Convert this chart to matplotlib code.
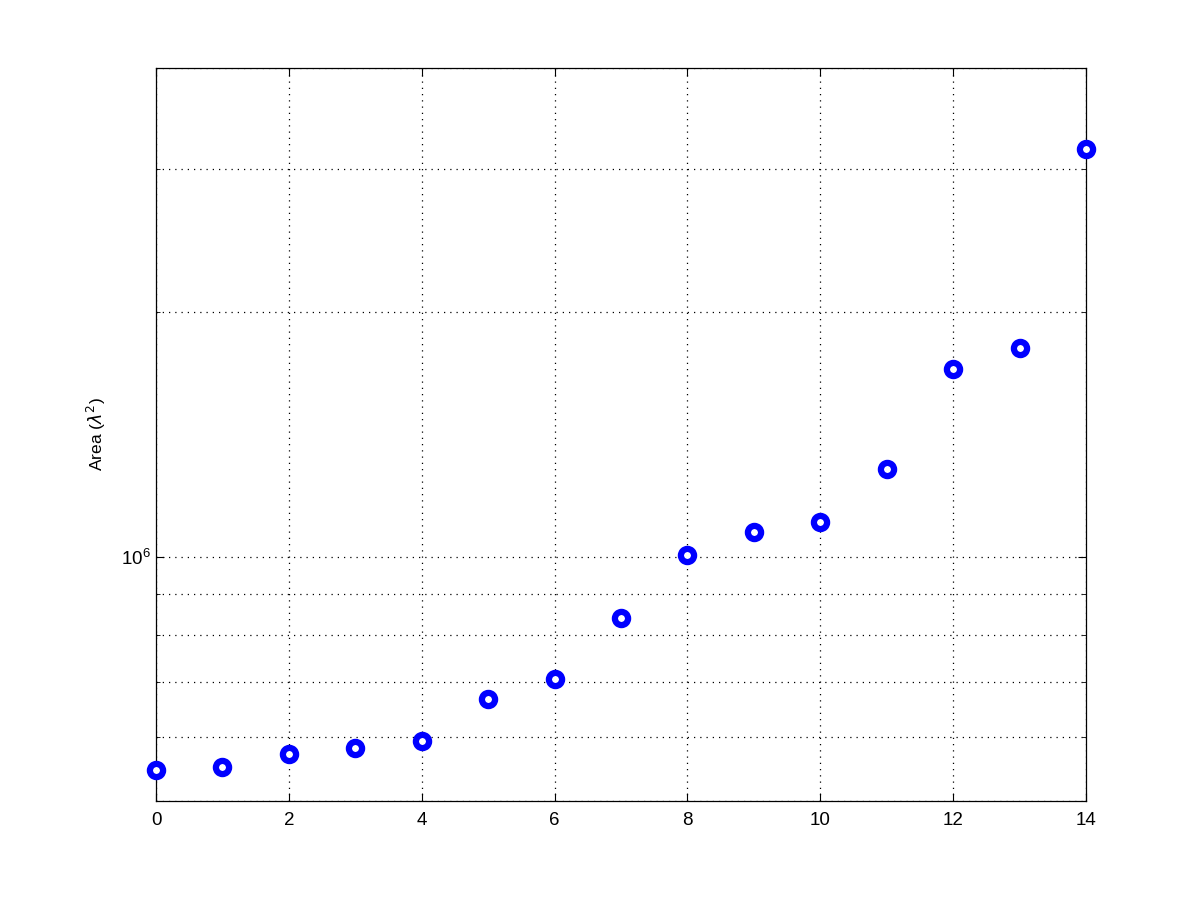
import matplotlib
matplotlib.use("Agg")
import matplotlib.pyplot as plt
from matplotlib.ticker import LogLocator, NullFormatter, LogFormatterSciNotation, MultipleLocator

plt.rcParams['font.family'] = ['Liberation Sans', 'DejaVu Sans']

# data
index = [0, 1, 2, 3, 4, 5, 6, 7, 8, 9, 10, 11, 12, 13, 14]
area = [5.46e5, 5.51e5, 5.71e5, 5.81e5, 5.92e5, 6.67e5, 7.06e5, 8.41e5,
        1.006e6, 1.073e6, 1.104e6, 1.283e6, 1.702e6, 1.806e6, 3.18e6]

fig = plt.figure(figsize=(12, 9.01), dpi=100)
ax = fig.add_axes([0.13, 0.111, 0.775, 0.8135])

ax.plot(index, area, 'o', color='blue', markerfacecolor='white',
        markeredgecolor='blue', markersize=9.5, markeredgewidth=4.5,
        clip_on=False, zorder=5)

ax.set_yscale('log')
ax.set_xlim(0, 14)
ax.set_ylim(5e5, 4e6)
ax.xaxis.set_major_locator(MultipleLocator(2))
ax.yaxis.set_major_locator(LogLocator(base=10, subs=[1.0]))
ax.yaxis.set_minor_locator(LogLocator(base=10, subs=[2, 3, 4, 5, 6, 7, 8, 9]))
ax.yaxis.set_major_formatter(LogFormatterSciNotation())
ax.yaxis.set_minor_formatter(NullFormatter())

dots = (0, (1, 4))
ax.grid(True, which='major', linestyle=dots, color='black', linewidth=0.9)
ax.grid(True, which='minor', axis='y', linestyle=dots, color='black', linewidth=0.9)

ax.tick_params(which='both', direction='in', top=True, right=True, labelsize=13.5)
ax.tick_params(which='major', length=6)
ax.tick_params(which='major', axis='x', pad=8)
ax.tick_params(which='minor', length=3)
for s in ax.spines.values():
    s.set_linewidth(0.9)

ax.set_ylabel(r'Area ($\lambda^2$)', fontsize=12.5, labelpad=10)

fig.savefig('out.png', dpi=100)
